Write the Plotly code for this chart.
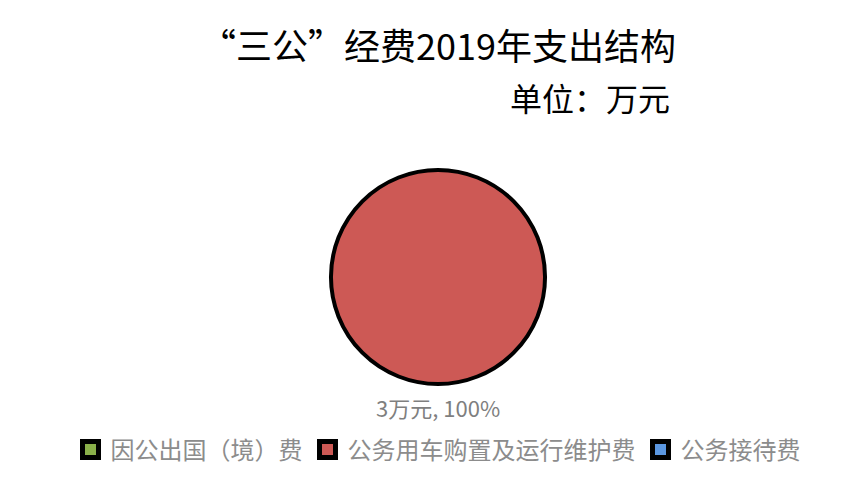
import plotly.graph_objects as go

categories = ["因公出国（境）费", "公务用车购置及运行维护费", "公务接待费"]
values = [0, 3, 0]
colors = ["#8AB04A", "#CD5955", "#5B97E0"]
unit = "万元"
title_text = "“三公”经费2019年支出结构"
subtitle_text = "单位：万元"

W, H = 858, 486
OFF = 8  # page body margin
cx, cy, r = 438 - OFF, 277 - OFF, 107
FONT = "Noto Sans CJK SC"

total = sum(values)
label_texts = [f"{v}{unit}, {v / total * 100:.0f}%" for v in values if v > 0]


def px(x):
    return x / W


def py(y):
    return 1 - y / H


fig = go.Figure()
fig.add_trace(go.Pie(
    labels=categories,
    values=values,
    textinfo="none",
    hoverinfo="label+value+percent",
    marker=dict(colors=colors, line=dict(color="black", width=[4 if v > 0 else 0 for v in values])),
    sort=False,
    direction="clockwise",
    rotation=0,
    domain=dict(x=[px(cx - r), px(cx + r)], y=[py(cy + r), py(cy - r)]),
    showlegend=False,
))

# legend entries
for name, col in zip(categories, colors):
    fig.add_trace(go.Scatter(
        x=[None], y=[None], mode="markers", name=name,
        marker=dict(symbol="square", size=16, color=col, line=dict(color="black", width=5)),
    ))

annotations = [
    dict(text=title_text, x=px(430), y=py(36), xref="paper", yref="paper",
         xanchor="center", yanchor="middle", showarrow=False,
         font=dict(size=36, color="black", family=FONT)),
    dict(text=subtitle_text, x=px(664), y=py(89), xref="paper", yref="paper",
         xanchor="right", yanchor="middle", showarrow=False,
         font=dict(size=32, color="black", family=FONT)),
]
for t in label_texts:
    annotations.append(dict(text=t, x=px(cx), y=py(399), xref="paper", yref="paper",
                            xanchor="center", yanchor="middle", showarrow=False,
                            font=dict(size=22, color="#7f7f7f", family=FONT)))

fig.update_layout(
    width=W, height=H,
    margin=dict(l=0, r=0, t=0, b=0),
    paper_bgcolor="white",
    plot_bgcolor="white",
    font=dict(family=FONT),
    xaxis=dict(visible=False),
    yaxis=dict(visible=False),
    annotations=annotations,
    legend=dict(orientation="h", x=px(430), xanchor="center", y=py(442), yanchor="middle",
                font=dict(size=24, color="#8c8c8c", family=FONT),
                itemwidth=30, traceorder="normal"),
)

fig.write_html("out.html")
